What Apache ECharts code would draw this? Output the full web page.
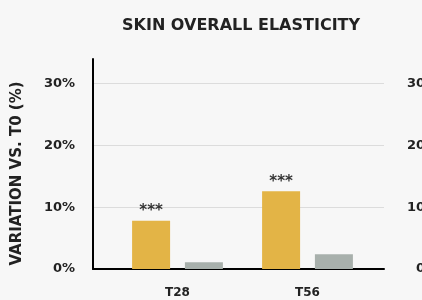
<!DOCTYPE html>
<html>
<head>
<meta charset="utf-8">
<title>Skin overall elasticity</title>
<script src="https://cdn.jsdelivr.net/npm/echarts@6/dist/echarts.min.js"></script>
<style>
    html, body { margin: 0; padding: 0; background: #f7f7f7; }
    #chart { width: 422px; height: 300px; }
</style>
</head>
<body>
<div id="chart"></div>
<script>
var categories = ['T28', 'T56'];
var productValues = [7.8, 12.6];
var placeboValues = [1.1, 2.4];
var significance = ['***', '***'];
var yMin = 0;
var yMax = 34;
var yStep = 10;

var textFont = 'DejaVu Sans';
var textColor = '#222222';

function pctLabel(value) {
    return value + '%';
}

var myChart = echarts.init(document.getElementById('chart'));

var option = {
    backgroundColor: '#f7f7f7',
    animation: false,
    title: {
        text: 'SKIN OVERALL ELASTICITY',
        left: 117,
        top: 13,
        textStyle: {
            fontFamily: textFont,
            fontWeight: 'bold',
            fontSize: 16,
            color: textColor
        }
    },
    grid: [
        // axes + gridlines
        { left: 93, right: 38, top: 59, bottom: 31, containLabel: false, outerBoundsMode: 'none' },
        // bars (categories sit a bit inside the frame)
        { left: 112.5, right: 49.5, top: 59, bottom: 31, containLabel: false, outerBoundsMode: 'none' }
    ],
    xAxis: [
        {
            type: 'category',
            gridIndex: 0,
            data: categories,
            axisLine: { lineStyle: { color: '#000', width: 2 } },
            axisTick: { show: false },
            axisLabel: { show: false },
            splitLine: { show: false }
        },
        {
            type: 'category',
            gridIndex: 1,
            data: categories,
            axisLine: { show: false },
            axisTick: { show: false },
            axisLabel: {
                margin: 18,
                fontFamily: textFont,
                fontWeight: 'bold',
                fontSize: 12,
                color: textColor
            }
        }
    ],
    yAxis: [
        {
            type: 'value',
            gridIndex: 0,
            min: yMin,
            max: yMax,
            interval: yStep,
            name: 'VARIATION VS. T0 (%)',
            nameLocation: 'middle',
            nameGap: 68,
            nameTextStyle: {
                fontFamily: textFont,
                fontWeight: 'bold',
                fontSize: 15,
                color: textColor,
                padding: [0, 19, 0, 0]
            },
            axisLine: { show: true, lineStyle: { color: '#000', width: 2 } },
            axisTick: { show: false },
            axisLabel: {
                margin: 18,
                showMaxLabel: false,
                formatter: pctLabel,
                fontFamily: textFont,
                fontWeight: 'bold',
                fontSize: 13,
                color: textColor
            },
            splitLine: {
                show: true,
                showMinLine: false,
                showMaxLine: false,
                lineStyle: { color: '#dcdcdc', width: 1 }
            }
        },
        {
            // second scale on the right, cut off by the frame edge
            type: 'value',
            gridIndex: 0,
            position: 'right',
            min: yMin,
            max: yMax,
            interval: yStep,
            axisLine: { show: false },
            axisTick: { show: false },
            axisLabel: {
                margin: 54,
                align: 'right',
                showMaxLabel: false,
                formatter: pctLabel,
                fontFamily: textFont,
                fontWeight: 'bold',
                fontSize: 13,
                color: textColor
            },
            splitLine: { show: false }
        },
        {
            type: 'value',
            gridIndex: 1,
            min: yMin,
            max: yMax,
            interval: yStep,
            show: false
        }
    ],
    series: [
        {
            name: 'Product',
            type: 'bar',
            xAxisIndex: 1,
            yAxisIndex: 2,
            barWidth: 38,
            barGap: '39%',
            itemStyle: { color: '#e3b446' },
            label: {
                show: true,
                position: 'top',
                distance: 2,
                formatter: function (p) { return significance[p.dataIndex]; },
                fontFamily: textFont,
                fontWeight: 'bold',
                fontSize: 15,
                color: '#333333'
            },
            data: productValues
        },
        {
            name: 'Placebo',
            type: 'bar',
            xAxisIndex: 1,
            yAxisIndex: 2,
            barWidth: 38,
            itemStyle: { color: '#a8b0ac' },
            data: placeboValues
        }
    ]
};

myChart.setOption(option);
</script>
</body>
</html>
